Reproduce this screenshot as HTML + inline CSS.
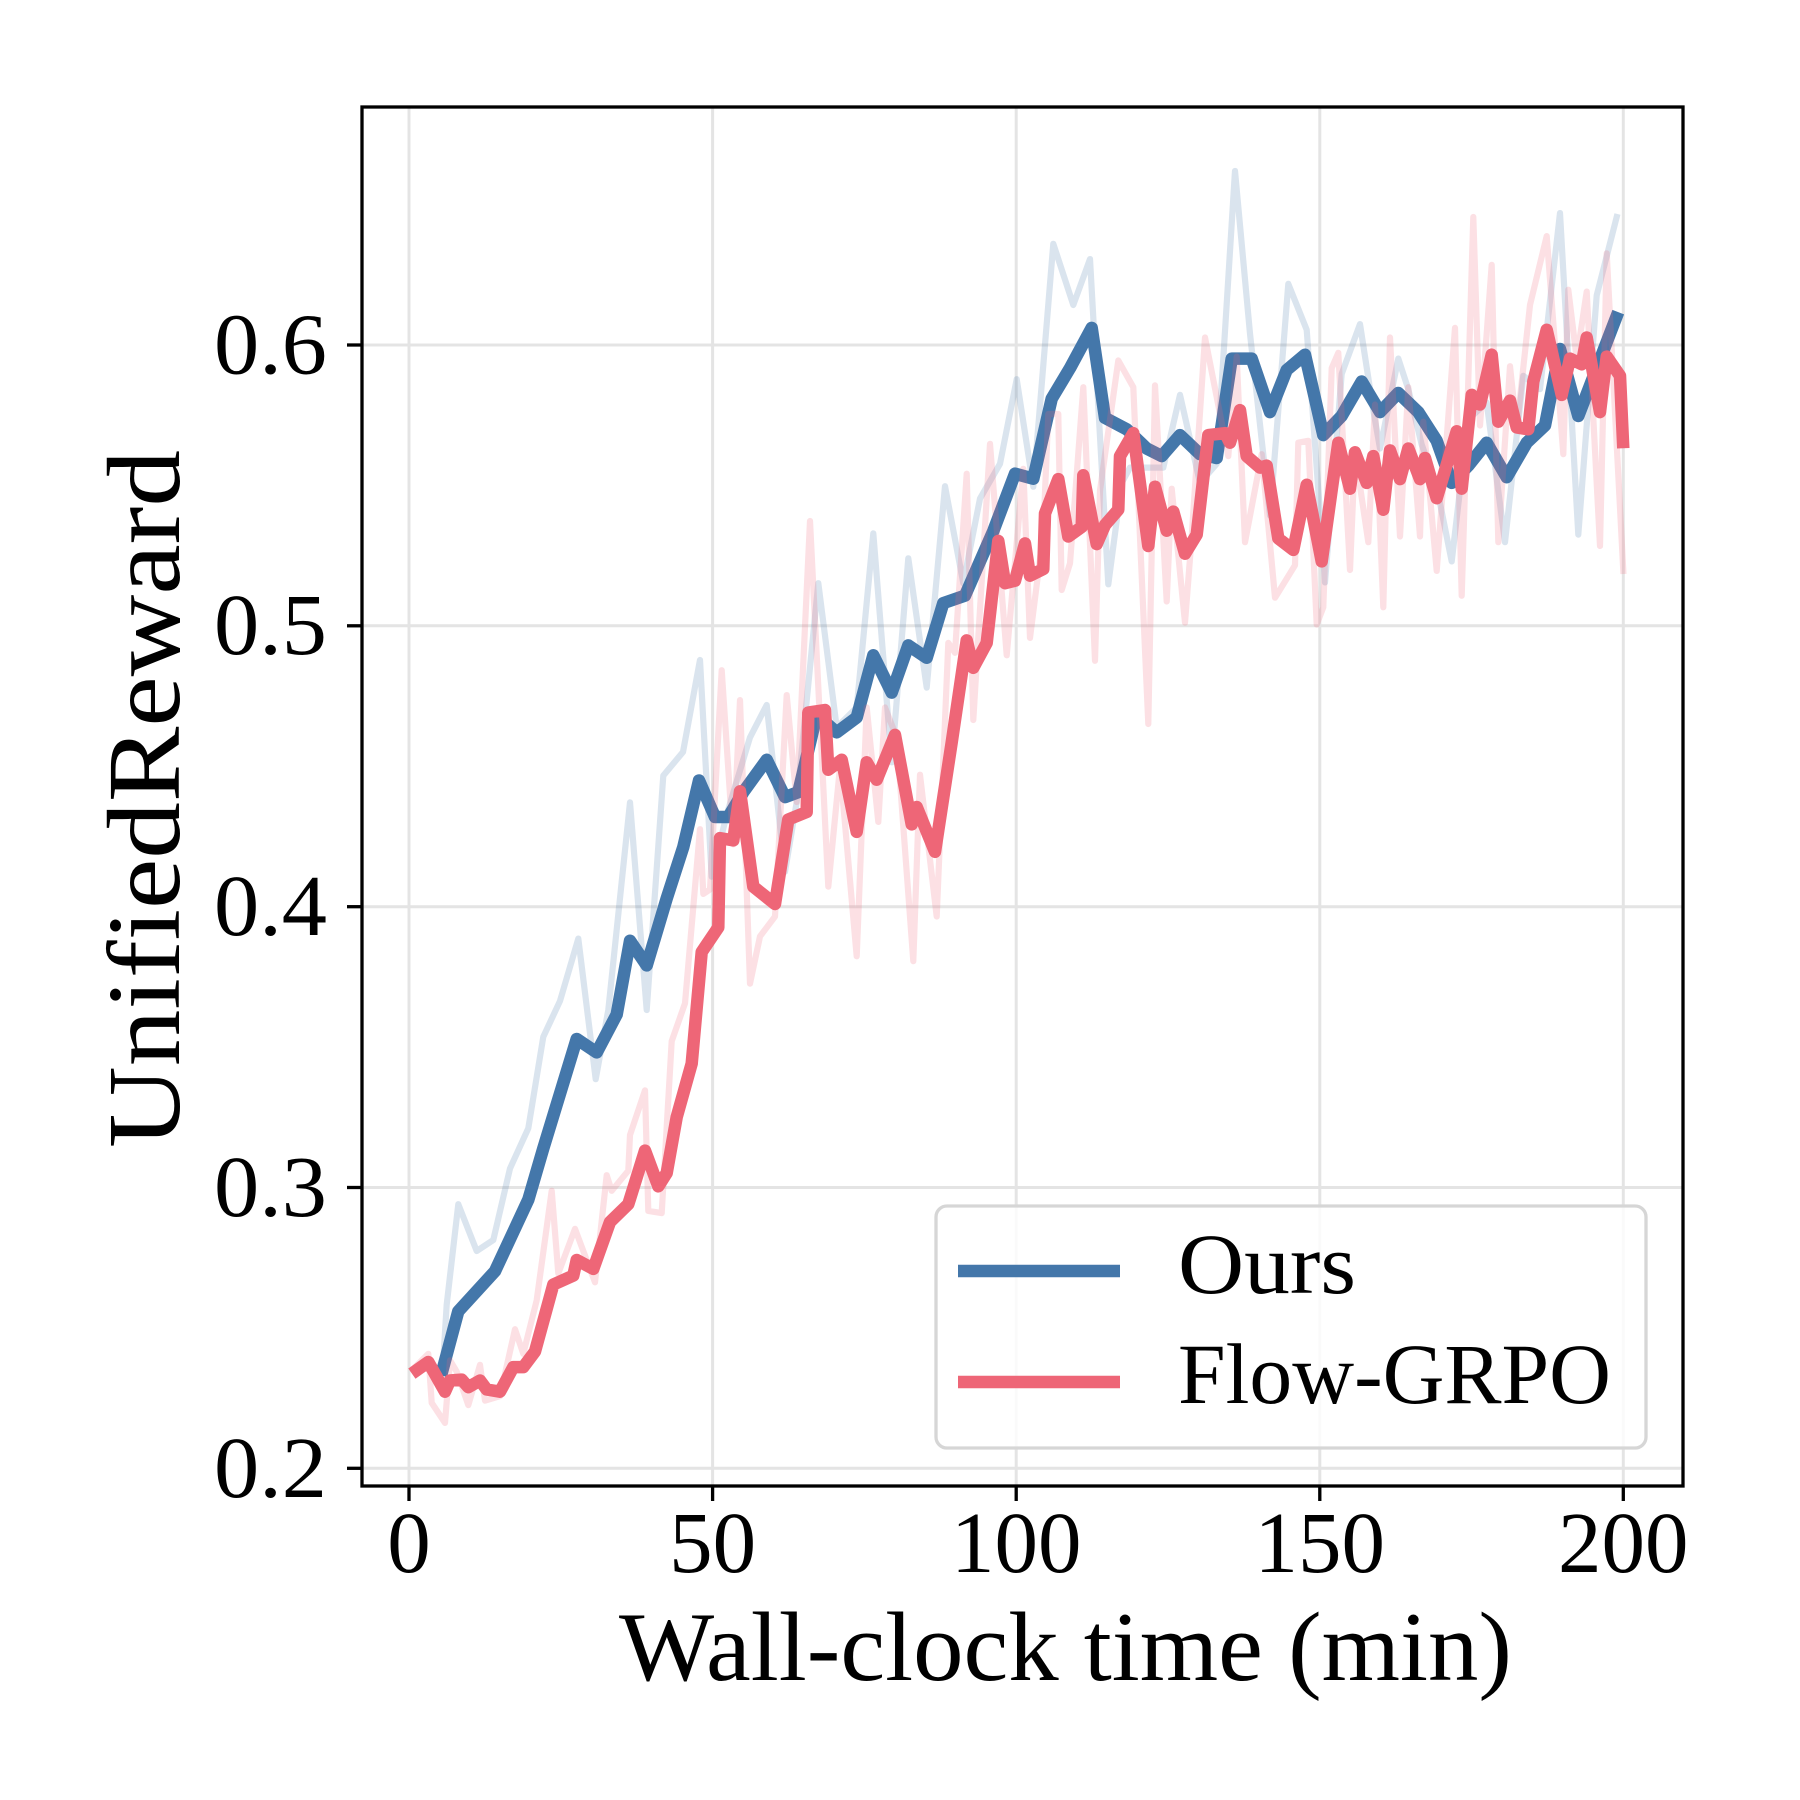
<!DOCTYPE html>
<html>
<head>
<meta charset="utf-8">
<style>
  html, body { margin: 0; padding: 0; background: #ffffff; }
  svg { display: block; }
  text { font-family: "Liberation Serif", "DejaVu Serif", serif; fill: #000; }
</style>
</head>
<body>
<svg width="1800" height="1800" viewBox="0 0 1800 1800" xmlns="http://www.w3.org/2000/svg">
  <rect x="0" y="0" width="1800" height="1800" fill="#ffffff"/>

  <!-- grid -->
  <g stroke="#e4e4e4" stroke-width="3">
    <line x1="409" y1="107" x2="409" y2="1486"/>
    <line x1="712.6" y1="107" x2="712.6" y2="1486"/>
    <line x1="1016.2" y1="107" x2="1016.2" y2="1486"/>
    <line x1="1319.8" y1="107" x2="1319.8" y2="1486"/>
    <line x1="1623.3" y1="107" x2="1623.3" y2="1486"/>
    <line x1="362" y1="1468.3" x2="1683" y2="1468.3"/>
    <line x1="362" y1="1187.5" x2="1683" y2="1187.5"/>
    <line x1="362" y1="906.7" x2="1683" y2="906.7"/>
    <line x1="362" y1="625.8" x2="1683" y2="625.8"/>
    <line x1="362" y1="345" x2="1683" y2="345"/>
  </g>

  <!-- Ours raw -->
  <polyline fill="none" stroke="#4477AA" stroke-opacity="0.2" stroke-width="6.2" stroke-linejoin="round" stroke-linecap="square"
    points="442.7,1369.4 446.7,1304.6 458.3,1204.2 476.7,1251 493.3,1240 510,1168.5 528.3,1128.3 543.3,1036.8 560,1001 578.3,938.6 595.7,1079.2 608.3,1010 630,802.4 646.7,1010 663.3,775.6 683,752 700,660 711.7,876.7 726.7,814.5 750,737.4 766.7,705 785,871.7 796.7,802 818.3,583.2 836.7,727.4 856.7,707.5 873.3,533.4 891.7,762.3 908.3,558.3 926.7,687.6 945,486.2 963.3,583.2 980,498.6 1000,463.8 1016.7,379.2 1033.3,486.7 1053.3,243.8 1073.3,305 1090,259.1 1108.3,584.3 1121.7,482.9 1130,467.6 1163.3,467.6 1180,394.9 1200,482.9 1216.7,463.8 1235,171 1250,333.7 1270,515.4 1288.3,283.9 1306.7,329.8 1325,582.4 1341.7,373.9 1360,324.1 1373.3,410.2 1380,448.5 1398.3,358.6 1408.3,389.2 1421.7,444.6 1436.7,486.7 1451.7,561.4 1461.7,475.3 1470,417.9 1486.7,402.6 1505,542.2 1523.3,375.8 1540,389.2 1560,213.1 1578.3,534.6 1596.7,295.4 1616.7,217"/>

  <!-- Ours smooth -->
  <polyline fill="none" stroke="#4477AA" stroke-width="12.5" stroke-linejoin="round" stroke-linecap="square"
    points="442.7,1369.4 458.3,1311.3 495,1271.2 528.3,1199.7 543.3,1148.4 576.7,1039 596.7,1052.4 616.7,1014.5 630,940.8 646.7,965.4 666.7,898.4 683.3,847 699,780.5 715,817 728.3,817 743.3,792.1 766.7,759.8 785,797.1 798.3,792.1 816.7,715 836.7,732.4 856.7,717.5 873.3,655.3 891.7,692.6 908.3,645.4 926.7,657.8 943.3,603.1 965,595.6 993.3,531 1015,473.7 1033.3,478.7 1051.7,398.7 1070,368.1 1091.7,327.9 1105,417.9 1126.7,429.3 1146.7,448.5 1161.7,456.1 1180,435.1 1200,454.2 1216.7,458 1231.7,358.6 1251.7,358.6 1270,412.1 1286.7,370 1305,354.7 1323.3,435.1 1341.7,415.9 1361.7,381.5 1380,412.1 1398.3,393 1418.3,412.1 1436.7,440.8 1451.7,482.9 1468.3,465.7 1486.7,442.7 1506.7,477.2 1526.7,442.7 1545,425.5 1560,349 1578.3,416 1596.7,368.1 1616,318"/>

  <!-- Flow-GRPO raw -->
  <polyline fill="none" stroke="#EE6677" stroke-opacity="0.2" stroke-width="6.2" stroke-linejoin="round" stroke-linecap="square"
    points="415,1367.1 428.3,1353.8 431.7,1402.9 445,1422.9 450,1360.4 456.7,1371.6 468.3,1405.1 480,1364.9 485,1400.6 500,1396.2 515,1329.2 523.3,1353.8 536.7,1300.2 551.7,1190.8 558.3,1273.4 575,1228.8 595,1282.3 606.7,1175.2 611.7,1190.8 628.3,1170.7 630,1135 645,1090.4 648.3,1210.9 661.7,1213.1 671.7,1041.2 685,1003.3 700,829.2 703.3,893.9 710,889.5 721.7,670.2 733.3,844.3 740,700.1 750,983.6 760,936.4 775,916.5 786.7,695.1 796.7,802 810,521 828.3,886.6 840,767.2 856.7,956.3 866.7,707.5 878.3,821.9 885,707.5 896.7,737.4 913.3,961.2 920,774.7 936.7,916.5 948.3,642.9 955,652.8 966.7,473.7 973.3,720 990,443.9 1006.7,655.3 1023.3,468.8 1030,637.9 1043.3,532.7 1048.3,414 1058.3,414 1061.7,590 1070,563.3 1083.3,387.2 1095,660.8 1100,490.6 1118.3,360.5 1133.3,387.2 1148.3,724 1155,385.3 1166.7,601.5 1171.7,488.7 1185,622.6 1191.7,536.5 1205,337.5 1228.3,456.1 1236.7,356.6 1245,542.2 1261.7,454.2 1275,597.7 1295,565.2 1298.3,442.7 1308.3,440.8 1316.7,624.5 1323.3,607.3 1331.7,368.1 1338.3,352.8 1350,570 1355,452.3 1368.3,542.2 1375,404.5 1383.3,607.3 1390,337.5 1400,536.5 1408.3,387.2 1420,536.5 1423.3,421.7 1436.7,570.9 1455,327.9 1461.7,595.8 1473.3,217 1480,425.5 1491.7,264.8 1498.3,542.2 1510,366.2 1516.7,429.3 1530,305 1546.7,236.1 1563.3,454.2 1568.3,289.7 1576.7,358.6 1586.7,291.6 1600,546 1606.7,253.3 1623.3,570.9"/>

  <!-- Flow-GRPO smooth -->
  <polyline fill="none" stroke="#EE6677" stroke-width="12.5" stroke-linejoin="round" stroke-linecap="square"
    points="417,1370 428.3,1362 445,1391.7 450,1380.5 461.7,1379.6 468.3,1387.2 480,1380.5 486.7,1389.5 500,1391.7 513.3,1367.1 523.3,1367.1 535,1351.5 553.3,1284.6 573.3,1275.6 576.7,1260 593.3,1268.9 610,1222 628.3,1204.2 645,1150.6 658.3,1186.3 666.7,1173 676.7,1117.1 691.7,1063.6 701.7,952 718.3,927.4 720,838.1 733.3,840.4 740,791.3 753.3,886.6 775,904 788.3,819.5 806.7,812 808.3,712.5 825,710 828.3,769.7 841.7,759.8 856.7,831.9 866.7,762.3 876.7,779.7 895,734.9 911.7,824.4 916.7,807 935,851.8 951.7,742.4 966.7,640.4 973.3,667.8 986.7,642.9 998.3,540.9 1005,583.2 1015,580.7 1025,543.4 1030,575.7 1043.3,569 1045,513.5 1058.3,479.1 1068.3,536.5 1081.7,526.9 1083.3,475.3 1096.7,544.1 1105,525 1118.3,509.7 1120,456.1 1133.3,433.2 1148.3,546 1155,486.7 1166.7,530.7 1173.3,511.6 1185,553.7 1196.7,534.6 1208.3,435.1 1225,433.2 1230,442.7 1240,410.2 1246.7,456.1 1260,467.6 1266.7,465.7 1278.3,538.4 1293.3,549.9 1306.7,484.8 1321.7,561.4 1338.3,442.7 1350,488.7 1355,452.3 1366.7,482.9 1373.3,456.1 1383.3,509.7 1390,450.4 1400,479.1 1408.3,448.5 1420,479.1 1425,458 1436.7,498.2 1456.7,431.3 1461.7,488.7 1471.7,394.9 1480,404.5 1491.7,354.7 1498.3,421.7 1510,400.6 1516.7,427.4 1528.3,429.3 1533.3,381.5 1546.7,329.8 1561.7,394.9 1570,358.6 1581.7,364.3 1586.7,337.5 1600,412.1 1606.7,356.6 1620,375.8 1623,442"/>

  <!-- spines -->
  <rect x="362" y="107" width="1321" height="1379" fill="none" stroke="#000" stroke-width="3.3"/>

  <!-- ticks -->
  <g stroke="#000" stroke-width="3.3">
    <line x1="409" y1="1486" x2="409" y2="1501"/>
    <line x1="712.6" y1="1486" x2="712.6" y2="1501"/>
    <line x1="1016.2" y1="1486" x2="1016.2" y2="1501"/>
    <line x1="1319.8" y1="1486" x2="1319.8" y2="1501"/>
    <line x1="1623.3" y1="1486" x2="1623.3" y2="1501"/>
    <line x1="347" y1="1468.3" x2="362" y2="1468.3"/>
    <line x1="347" y1="1187.5" x2="362" y2="1187.5"/>
    <line x1="347" y1="906.7" x2="362" y2="906.7"/>
    <line x1="347" y1="625.8" x2="362" y2="625.8"/>
    <line x1="347" y1="345" x2="362" y2="345"/>
  </g>

  <!-- tick labels -->
  <g font-size="87">
    <text x="327" y="1497" text-anchor="end" textLength="113" lengthAdjust="spacingAndGlyphs">0.2</text>
    <text x="327" y="1216" text-anchor="end" textLength="113" lengthAdjust="spacingAndGlyphs">0.3</text>
    <text x="327" y="935" text-anchor="end" textLength="113" lengthAdjust="spacingAndGlyphs">0.4</text>
    <text x="327" y="654" text-anchor="end" textLength="113" lengthAdjust="spacingAndGlyphs">0.5</text>
    <text x="327" y="373.5" text-anchor="end" textLength="113" lengthAdjust="spacingAndGlyphs">0.6</text>
    <text x="409" y="1572" text-anchor="middle">0</text>
    <text x="712.6" y="1572" text-anchor="middle">50</text>
    <text x="1016.2" y="1572" text-anchor="middle">100</text>
    <text x="1319.8" y="1572" text-anchor="middle">150</text>
    <text x="1623.3" y="1572" text-anchor="middle">200</text>
  </g>

  <!-- axis labels -->
  <text x="619" y="1680" font-size="99" textLength="893" lengthAdjust="spacingAndGlyphs">Wall-clock time (min)</text>
  <text transform="translate(179,1148) rotate(-90)" x="0" y="0" font-size="104" textLength="698" lengthAdjust="spacingAndGlyphs">UnifiedReward</text>

  <!-- legend -->
  <rect x="936" y="1206" width="710" height="242" rx="11" ry="11" fill="#ffffff" fill-opacity="0.8" stroke="#d6d6d6" stroke-width="3.3"/>
  <line x1="958" y1="1271" x2="1120" y2="1271" stroke="#4477AA" stroke-width="12.5"/>
  <line x1="958" y1="1382" x2="1120" y2="1382" stroke="#EE6677" stroke-width="12.5"/>
  <text x="1178" y="1293" font-size="86" textLength="178" lengthAdjust="spacingAndGlyphs">Ours</text>
  <text x="1178" y="1403" font-size="86" textLength="433" lengthAdjust="spacingAndGlyphs">Flow-GRPO</text>
</svg>
</body>
</html>
